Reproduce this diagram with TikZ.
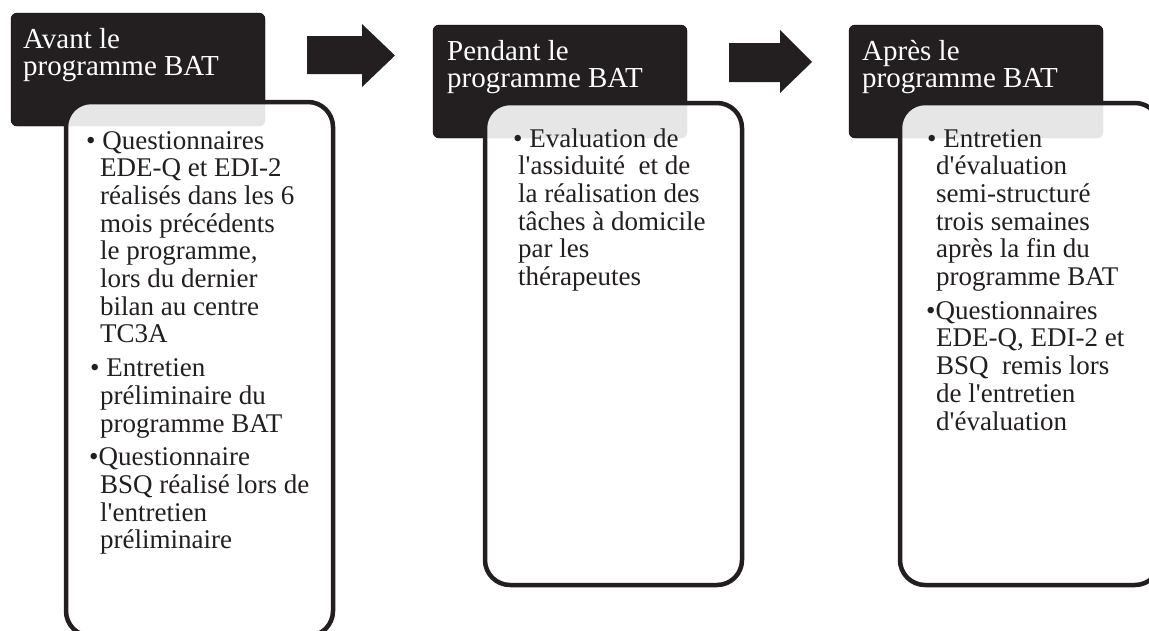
\documentclass[tikz,border=0pt]{standalone}
\usepackage{fontspec}
\setmainfont[Ligatures=TeXOff]{Liberation Serif}
\usepackage{tikz}

\definecolor{darkbox}{HTML}{231F20}

\begin{document}
\begin{tikzpicture}[x=1pt,y=-1pt,
	header/.style={fill=darkbox, rounded corners=6pt},
	content/.style={draw=darkbox, line width=4.5pt, fill=white, fill opacity=0.89, rounded corners=25pt},
	bigarrow/.style={fill=darkbox},
	headtext/.style={anchor=base west, inner sep=0pt, text=white, font=\fontsize{29}{27}\selectfont},
	bodytext/.style={anchor=base west, inner sep=0pt, text=darkbox, font=\fontsize{27}{27.7}\selectfont}]
	\useasboundingbox (0,0) rectangle (1149,630);
	\begin{scope}
	\clip (0,0) rectangle (1149,630);

	% avant
	\draw[header] (11,13) rectangle (265,126);
	\draw[content] (66,102) rectangle (333,636);
	\node[headtext] (avanttitle) at (23,48) {\parbox[t]{240pt}{Avant le\\programme BAT}};
	\node[bodytext] (avanttext) at (100,149) {\parbox[t]{230pt}{\raggedright
		\hspace*{-14pt}• Questionnaires\\
		EDE-Q et EDI-2\\
		réalisés dans les 6\\
		mois précédents\\
		le programme,\\
		lors du dernier\\
		bilan au centre\\
		TC3A\\[6pt]
		\hspace*{-10pt}• Entretien\\
		préliminaire du\\
		programme BAT\\[6pt]
		\hspace*{-11pt}•Questionnaire\\
		BSQ réalisé lors de\\
		l'entretien\\
		préliminaire}};

	% pendant
	\draw[header] (433,25) rectangle (687,138);
	\draw[content] (485,103) rectangle (742,585);
	\node[headtext] (pendanttitle) at (447,60) {\parbox[t]{240pt}{Pendant le\\programme BAT}};
	\node[bodytext] (pendanttext) at (518,147) {\parbox[t]{230pt}{\raggedright
		\hspace*{-5pt}• Evaluation de\\
		l'assiduité~ et de\\
		la réalisation des\\
		tâches à domicile\\
		par les\\
		thérapeutes}};

	% apres
	\draw[header] (849,25) rectangle (1103,138);
	\draw[content] (900,103) rectangle (1160,585);
	\node[headtext] (aprestitle) at (862,60) {\parbox[t]{240pt}{Après le\\programme BAT}};
	\node[bodytext] (aprestext) at (936,147) {\parbox[t]{230pt}{\raggedright
		\hspace*{-9pt}• Entretien\\
		d'évaluation\\
		semi-structuré\\
		trois semaines\\
		après la fin du\\
		programme BAT\\[6pt]
		\hspace*{-10pt}•Questionnaires\\
		EDE-Q, EDI-2 et\\
		BSQ~ remis lors\\
		de l'entretien\\
		d'évaluation}};

	% fleches
	\fill[bigarrow] (307,36) -- (362,36) -- (362,24) -- (395,55.5) -- (362,87) -- (362,74) -- (307,74) -- cycle;
	\fill[bigarrow] (729,43) -- (780,43) -- (780,30) -- (812,62) -- (780,93) -- (780,82) -- (729,82) -- cycle;
	\end{scope}
\end{tikzpicture}
\end{document}
